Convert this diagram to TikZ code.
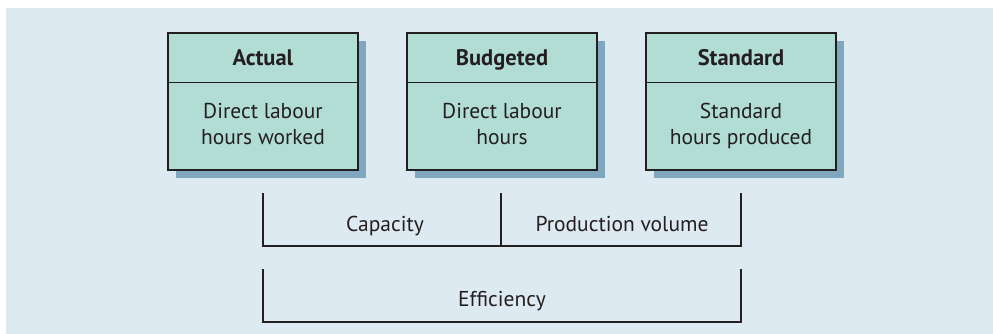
\documentclass[tikz,border=0pt]{standalone}
\usepackage{fontspec}
\setmainfont{PT Sans}
\usetikzlibrary{calc,shadows}
\definecolor{bgc}{HTML}{DDEAF2}
\definecolor{boxc}{HTML}{B2DDD4}
\definecolor{shc}{HTML}{7FA8BE}
\definecolor{ink}{HTML}{231F20}
\begin{document}
\begin{tikzpicture}[x=1pt,y=-1pt,
  box/.style={draw=ink,line width=1.3pt,fill=boxc,minimum width=190pt,minimum height=137pt,inner sep=0pt,
    drop shadow={shadow xshift=8pt,shadow yshift=-8pt,fill=shc,opacity=1}},
  divider/.style={draw=ink,line width=1.3pt},
  head/.style={text=ink,font=\fontsize{22.5}{26}\selectfont\bfseries,inner sep=0pt},
  body/.style={text=ink,font=\fontsize{21.5}{26}\selectfont,align=center,inner sep=0pt},
  lbl/.style={text=ink,font=\fontsize{21.5}{26}\selectfont,inner sep=0pt},
  brk/.style={draw=ink,line width=2pt}]
\useasboundingbox (0,0) rectangle (993,334);
\fill[bgc] (6,8) rectangle (993,334);
% boxes
\node[box] (act) at (263,101.5) {};
\node[box] (bud) at (502,101.5) {};
\node[box] (std) at (741,101.5) {};
\foreach \b in {act,bud,std}{
  \draw[divider] ($(\b.north west)+(0,50)$) -- ($(\b.north east)+(0,50)$);
}
\node[head] (act-h) at (263,60) {Actual\strut};
\node[head] (bud-h) at (502,60) {Budgeted\strut};
\node[head] (std-h) at (741,60) {Standard\strut};
\node[body] (act-b) at (263,126) {Direct labour\strut\\hours worked\strut};
\node[body] (bud-b) at (502,126) {Direct labour\strut\\hours\strut};
\node[body] (std-b) at (741,126) {Standard\strut\\hours produced\strut};
% upper bracket
\coordinate (a1) at (263,193);
\coordinate (a2) at (263,246);
\coordinate (b1) at (501,193);
\coordinate (b2) at (501,246);
\coordinate (c1) at (741,193);
\coordinate (c2) at (741,246);
\draw[brk] (a1) -- (a2) -- (c2) -- (c1);
\draw[brk] (b1) -- (b2);
\node[lbl] (cap) at (385,226) {Capacity\strut};
\node[lbl] (prod) at (622,226) {Production volume\strut};
% lower bracket
\coordinate (d1) at (263,269);
\coordinate (d2) at (263,322);
\coordinate (e1) at (741,269);
\coordinate (e2) at (741,322);
\draw[brk] (d1) -- (d2) -- (e2) -- (e1);
\node[lbl] (eff) at (502,301) {Efficiency\strut};
\end{tikzpicture}
\end{document}
